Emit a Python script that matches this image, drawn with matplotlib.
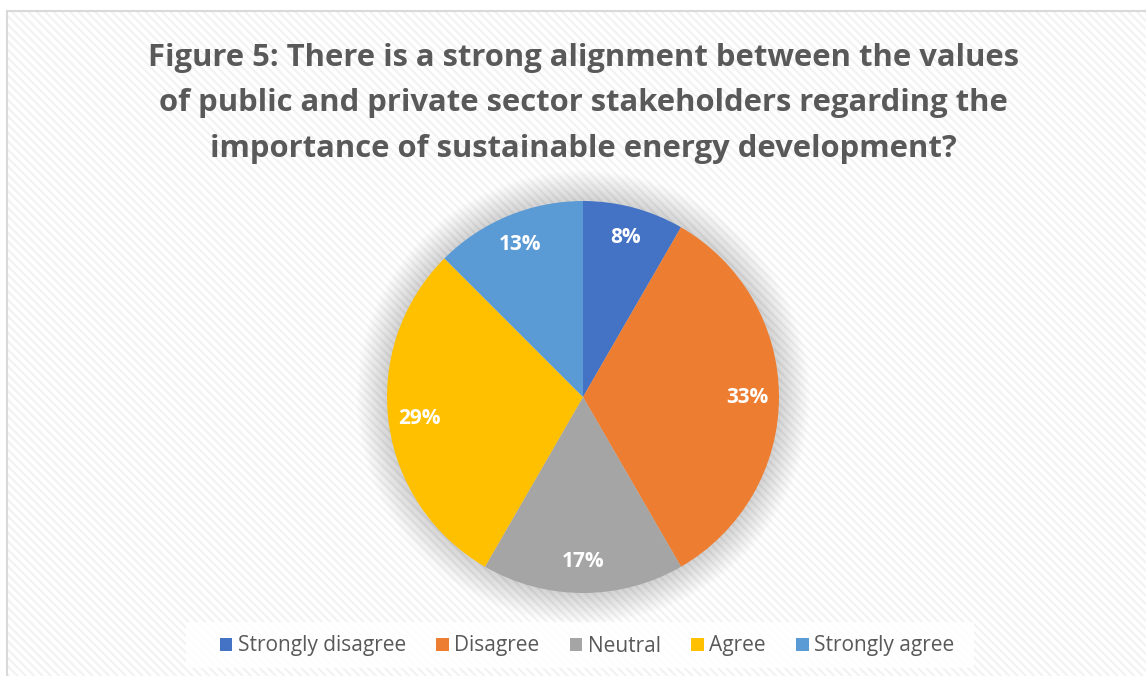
import matplotlib

matplotlib.use("Agg")

import matplotlib.pyplot as plt
from matplotlib.patches import Circle, Patch, Rectangle

TITLE_LINES = [
    "Figure 5: There is a strong alignment between the values",
    "of public and private sector stakeholders regarding the",
    "importance of sustainable energy development?",
]
categories = ["Strongly disagree", "Disagree", "Neutral", "Agree", "Strongly agree"]
# response counts (shown as 8%, 33%, 17%, 29%, 13%)
responses = [2, 8, 4, 7, 3]
colors = ["#4472C4", "#ED7D31", "#A5A5A5", "#FFC000", "#5B9BD5"]

plt.rcParams["font.family"] = ["Open Sans", "DejaVu Sans"]
plt.rcParams["hatch.linewidth"] = 1.5

W, H = 1146, 676
fig = plt.figure(figsize=(W / 100, H / 100), dpi=100)
fig.patch.set_facecolor("white")

# hatched chart-area background with thin grey border
bg = Rectangle(
    (7 / W, 0), 1.2, (H - 11) / H,
    transform=fig.transFigure, facecolor="white", edgecolor="#f2f2f2",
    hatch="\\\\\\\\", linewidth=0, zorder=-3,
)
fig.patches.append(bg)
border = Rectangle(
    (7 / W, -0.1), 1.2, (H - 11) / H + 0.1,
    transform=fig.transFigure, facecolor="none", edgecolor="#d9d9d9",
    linewidth=1.5, zorder=-2,
)
fig.patches.append(border)

# legend backdrop
fig.patches.append(Rectangle(
    (186 / W, 1 - 668 / H), (974 - 186) / W, 46 / H,
    transform=fig.transFigure, facecolor="white", edgecolor="none",
    alpha=0.9, zorder=-1,
))

for i, line in enumerate(TITLE_LINES):
    fig.text(
        583 / W, 1 - (66 + 45.5 * i) / H, line, ha="center", va="baseline",
        fontsize=22.3, fontweight="bold", color="#595959",
    )

# pie axes: centre (583, 397) px, radius 196 px
r = 196
ax = fig.add_axes([(583 - r) / W, (H - 397 - r) / H, 2 * r / W, 2 * r / H])
ax.patch.set_alpha(0)

# soft glow/shadow around the pie
for k in range(14):
    ax.add_patch(Circle((0, 0.0), 1.0 + 0.011 * (14 - k), color="#000000",
                        alpha=0.011, lw=0, zorder=0, clip_on=False))

wedges, _, autotexts = ax.pie(
    responses, colors=colors, startangle=90, counterclock=False,
    autopct=lambda p: f"{int(p + 0.5)}%", pctdistance=0.84, radius=1.0,
    wedgeprops=dict(linewidth=0),
    textprops=dict(color="white", fontsize=15, fontweight="bold"),
)
for w in wedges:
    w.set_zorder(2)
for t in autotexts:
    t.set_zorder(3)
ax.set_xlim(-1, 1)
ax.set_ylim(-1, 1)
ax.set_aspect("equal")
ax.axis("off")

handles = [Patch(facecolor=c, edgecolor="none") for c in colors]
leg = fig.legend(
    handles, categories, loc="center", bbox_to_anchor=(587 / W, 1 - 646 / H),
    ncol=5, frameon=False, fontsize=15, handlelength=0.6, handleheight=0.6,
    handletextpad=0.25, columnspacing=1.47, borderpad=0.6,
    labelcolor="#595959",
)

fig.savefig("out.png", dpi=100)
